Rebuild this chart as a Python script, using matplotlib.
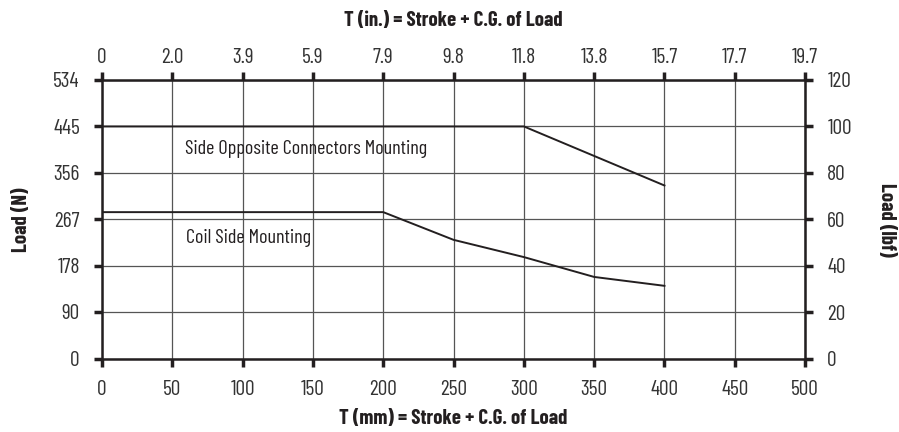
"""
Load vs. stroke chart for two mounting orientations.
Left/bottom axes in metric (N, mm), right/top in imperial (lbf, in.).
"""

import matplotlib
matplotlib.use("Agg")
import matplotlib.pyplot as plt

# Data
mm_ticks = [0, 50, 100, 150, 200, 250, 300, 350, 400, 450, 500]
inch_labels = ["0", "2.0", "3.9", "5.9", "7.9", "9.8", "11.8", "13.8", "15.7", "17.7", "19.7"]
newton_ticks = [0, 90, 178, 267, 356, 445, 534]
lbf_ticks = [0, 20, 40, 60, 80, 100, 120]
N_PER_LBF = 4.45

side_opp_x = [0, 300, 400]
side_opp_y = [445, 445, 332]

coil_side_x = [0, 200, 250, 300, 350, 400]
coil_side_y = [281, 281, 228, 195, 157, 140]

FONT = ["Barlow Condensed", "DejaVu Sans"]
plt.rcParams["font.family"] = FONT

INK = "#231f20"
TICK_COLOR = "#333333"
GRID = "#555555"
TICK_SIZE = 15.5
LABEL_SIZE = 15

fig = plt.figure(figsize=(8.99, 4.32), dpi=100)
ax = fig.add_axes([0.1135, 0.169, 0.782, 0.646])

# Grid
for x in mm_ticks:
    ax.axvline(x, color=GRID, linewidth=0.9, zorder=1)
for y in newton_ticks:
    ax.axhline(y, color=GRID, linewidth=0.9, zorder=1)

# Curves
ax.plot(side_opp_x, side_opp_y, color=INK, linewidth=1.4, zorder=3)
ax.plot(coil_side_x, coil_side_y, color=INK, linewidth=1.4, zorder=3)

ax.text(59, 401, "Side Opposite Connectors Mounting", fontsize=14.5, color=INK,
        va="center", ha="left", zorder=4)
ax.text(60, 231, "Coil Side Mounting", fontsize=14.5, color=INK,
        va="center", ha="left", zorder=4)

ax.set_xlim(0, 500)
ax.set_ylim(0, 534)

# Bottom / left axes (metric)
ax.set_xticks(mm_ticks)
ax.set_xticklabels([str(v) for v in mm_ticks])
ax.set_yticks(newton_ticks)
ax.set_yticklabels([str(v) for v in newton_ticks])
ax.tick_params(axis="x", direction="out", length=6, width=2.5, color=INK,
               labelsize=TICK_SIZE, labelcolor=TICK_COLOR, pad=9)
ax.tick_params(axis="y", direction="out", length=6, width=2.5, color=INK,
               labelsize=TICK_SIZE, labelcolor=TICK_COLOR, pad=10)
ax.set_xlabel("T (mm) = Stroke + C.G. of Load", fontsize=LABEL_SIZE, fontweight="bold",
              color=INK, labelpad=7)
ax.set_ylabel("Load (N)", fontsize=LABEL_SIZE, fontweight="bold", color=INK, labelpad=16)

for spine in ax.spines.values():
    spine.set_linewidth(1.8)
    spine.set_color(INK)

# Top axis (inches) at the same mm positions
top = ax.secondary_xaxis("top")
top.set_xticks(mm_ticks)
top.set_xticklabels(inch_labels)
top.tick_params(direction="out", length=6, width=2.5, color=INK,
                labelsize=TICK_SIZE, labelcolor=TICK_COLOR, pad=3.5)
top.set_xlabel("T (in.) = Stroke + C.G. of Load", fontsize=LABEL_SIZE, fontweight="bold",
               color=INK, labelpad=16)

# Right axis (lbf)
right = ax.secondary_yaxis("right", functions=(lambda n: n / N_PER_LBF,
                                               lambda p: p * N_PER_LBF))
right.set_yticks(lbf_ticks)
right.set_yticklabels([str(v) for v in lbf_ticks])
right.tick_params(direction="out", length=6, width=2.5, color=INK,
                  labelsize=TICK_SIZE, labelcolor=TICK_COLOR, pad=10)
right.set_ylabel("Load (lbf)", fontsize=LABEL_SIZE, fontweight="bold", color=INK,
                 rotation=270, labelpad=32)

fig.savefig("out.png", dpi=100)
plt.close(fig)
